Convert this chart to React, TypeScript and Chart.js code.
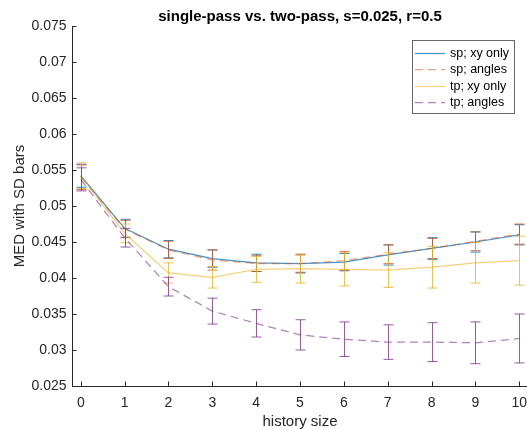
import { useEffect, useRef } from 'react';
import { Chart, registerables } from 'chart.js';

Chart.register(...registerables);

// ---- data ----
const historySizes = [0, 1, 2, 3, 4, 5, 6, 7, 8, 9, 10];

const spXyMean = [0.0542, 0.0469, 0.044, 0.0427, 0.0421, 0.042, 0.0422, 0.0432, 0.0441, 0.045, 0.046];
const spXySd = [0.0016, 0.00125, 0.0012, 0.0012, 0.0012, 0.0013, 0.0012, 0.0014, 0.0015, 0.0014, 0.0014];

const spAnglesMean = [0.054, 0.0468, 0.0439, 0.0425, 0.042, 0.042, 0.0424, 0.0433, 0.0441, 0.0451, 0.0461];
const spAnglesSd = [0.0017, 0.0012, 0.0012, 0.0014, 0.0011, 0.0012, 0.0013, 0.0013, 0.0014, 0.0013, 0.0014];

const tpXyMean = [0.0542, 0.0462, 0.0407, 0.0401, 0.0412, 0.0413, 0.0412, 0.0411, 0.0415, 0.0421, 0.0424];
const tpXySd = [0.0018, 0.0013, 0.0014, 0.0015, 0.0018, 0.002, 0.0023, 0.0024, 0.0029, 0.0028, 0.0034];

const tpAnglesMean = [0.0537, 0.0456, 0.0388, 0.0354, 0.0337, 0.0321, 0.0315, 0.0311, 0.0311, 0.031, 0.0316];
const tpAnglesSd = [0.0016, 0.0013, 0.0013, 0.0018, 0.0019, 0.0021, 0.0024, 0.0024, 0.0027, 0.0029, 0.0034];

const seriesLabels = ['sp; xy only', 'sp; angles', 'tp; xy only', 'tp; angles'];

const xTickValues = [0, 1, 2, 3, 4, 5, 6, 7, 8, 9, 10];
const xTickLabels = ['0', '1', '2', '3', '4', '5', '6', '7', '8', '9', '10'];
const yTickValues = [0.025, 0.03, 0.035, 0.04, 0.045, 0.05, 0.055, 0.06, 0.065, 0.07, 0.075];
const yTickLabels = ['0.025', '0.03', '0.035', '0.04', '0.045', '0.05', '0.055', '0.06', '0.065', '0.07', '0.075'];

const chartTitle = 'single-pass vs. two-pass, s=0.025, r=0.5';
const xAxisTitle = 'history size';
const yAxisTitle = 'MED with SD bars';

// ---- styles ----
const FONT = '"Liberation Sans", Arial, Helvetica, sans-serif';
const AXIS = '#262626';

const seriesStyles = [
  { line: 'rgba(0,114,189,0.75)', bar: 'rgba(0,114,189,0.85)', dash: [] as number[] },
  { line: 'rgba(217,83,25,0.55)', bar: 'rgba(217,83,25,0.8)', dash: [8, 5] },
  { line: 'rgba(237,177,32,0.6)', bar: 'rgba(237,177,32,0.8)', dash: [] as number[] },
  { line: 'rgba(126,47,142,0.6)', bar: 'rgba(126,47,142,0.8)', dash: [8, 5] },
];

const seriesMeans = [spXyMean, spAnglesMean, tpXyMean, tpAnglesMean];
const seriesSds = [spXySd, spAnglesSd, tpXySd, tpAnglesSd];

const decorPlugin = {
  id: 'matlabDecor',
  beforeDatasetsDraw(chart: any) {
    const { ctx, chartArea } = chart;
    const xs = chart.scales.x;
    const ys = chart.scales.y;
    ctx.save();
    ctx.strokeStyle = AXIS;
    ctx.lineWidth = 1;
    ctx.beginPath();
    xTickValues.forEach((v) => {
      const px = Math.round(xs.getPixelForValue(v)) + 0.5;
      ctx.moveTo(px, chartArea.bottom);
      ctx.lineTo(px, chartArea.bottom - 4.5);
    });
    yTickValues.forEach((v) => {
      const py = Math.round(ys.getPixelForValue(v)) + 0.5;
      ctx.moveTo(chartArea.left, py);
      ctx.lineTo(chartArea.left + 4.5, py);
    });
    ctx.stroke();
    ctx.restore();
  },
  afterDatasetDraw(chart: any, args: any) {
    const ds: any = chart.data.datasets[args.index];
    if (!ds.sdValues) return;
    const xs = chart.scales.x;
    const ys = chart.scales.y;
    const ctx = chart.ctx;
    ctx.save();
    ctx.strokeStyle = ds.barColor;
    ctx.lineWidth = 1;
    ctx.setLineDash([]);
    ctx.beginPath();
    ds.data.forEach((p: any, i: number) => {
      const px = Math.round(xs.getPixelForValue(p.x)) + 0.5;
      const top = ys.getPixelForValue(p.y + ds.sdValues[i]);
      const bot = ys.getPixelForValue(p.y - ds.sdValues[i]);
      ctx.moveTo(px, top);
      ctx.lineTo(px, bot);
      ctx.moveTo(px - 5, top);
      ctx.lineTo(px + 5, top);
      ctx.moveTo(px - 5, bot);
      ctx.lineTo(px + 5, bot);
    });
    ctx.stroke();
    ctx.restore();
  },
  afterDraw(chart: any) {
    const { ctx, chartArea } = chart;
    ctx.save();
    // title
    ctx.fillStyle = '#000';
    ctx.font = `bold 15px ${FONT}`;
    ctx.textAlign = 'center';
    ctx.textBaseline = 'alphabetic';
    ctx.fillText(chartTitle, (chartArea.left + 527) / 2 + 0.5, 21);

    // legend
    const w = 102;
    const h = 73;
    const left = 412;
    const top = chartArea.top + 14;
    ctx.fillStyle = '#fff';
    ctx.fillRect(left, top, w, h);
    ctx.strokeStyle = '#666';
    ctx.lineWidth = 1;
    ctx.setLineDash([]);
    ctx.strokeRect(left + 0.5, top + 0.5, w, h);
    ctx.font = `12.5px ${FONT}`;
    ctx.textAlign = 'left';
    ctx.textBaseline = 'middle';
    seriesLabels.forEach((lab, i) => {
      const y = top + 12.7 + i * 16.5;
      const st = seriesStyles[i];
      ctx.strokeStyle = st.line;
      ctx.lineWidth = 1.25;
      ctx.setLineDash(st.dash);
      ctx.beginPath();
      ctx.moveTo(left + 3, Math.round(y) + 0.5);
      ctx.lineTo(left + 33, Math.round(y) + 0.5);
      ctx.stroke();
      ctx.fillStyle = '#000';
      ctx.fillText(lab, left + 38, y + 0.5);
    });
    ctx.restore();
  },
};

export default function App() {
  const canvasRef = useRef<HTMLCanvasElement | null>(null);

  useEffect(() => {
    if (!canvasRef.current) return;
    const datasets = seriesLabels.map((label, si) => ({
      label,
      data: historySizes.map((x, i) => ({ x, y: seriesMeans[si][i] })),
      sdValues: seriesSds[si],
      barColor: seriesStyles[si].bar,
      borderColor: seriesStyles[si].line,
      backgroundColor: seriesStyles[si].line,
      borderWidth: 1.25,
      borderDash: seriesStyles[si].dash,
      pointRadius: 0,
      pointHoverRadius: 0,
      fill: false,
      tension: 0,
      order: 3 - si,
      clip: false as any,
    }));

    const chart = new Chart(canvasRef.current, {
      type: 'line',
      data: { datasets: datasets as any },
      plugins: [decorPlugin as any],
      options: {
        animation: false,
        responsive: false,
        devicePixelRatio: 1,
        layout: { padding: { left: 0, right: 12, top: 26, bottom: 0 } },
        plugins: {
          legend: { display: false },
          title: { display: false },
          tooltip: { enabled: false },
        },
        scales: {
          x: {
            type: 'linear',
            min: -0.2,
            max: 10.2,
            afterBuildTicks: (scale: any) => {
              scale.ticks = xTickValues.map((v) => ({ value: v }));
            },
            afterFit: (scale: any) => {
              scale.height = 44;
            },
            grid: { display: false, drawTicks: false },
            border: { display: true, color: AXIS, width: 1 },
            ticks: {
              color: AXIS,
              padding: 9,
              maxRotation: 0,
              autoSkip: false,
              font: { family: FONT, size: 14, lineHeight: 1.2 },
              callback: (_v: any, i: number) => xTickLabels[i],
            },
            title: {
              display: true,
              text: xAxisTitle,
              color: AXIS,
              font: { family: FONT, size: 15, lineHeight: 1 },
              padding: { top: 0, bottom: 1 },
            },
          },
          y: {
            type: 'linear',
            min: 0.025,
            max: 0.075,
            afterBuildTicks: (scale: any) => {
              scale.ticks = yTickValues.map((v) => ({ value: v }));
            },
            afterFit: (scale: any) => {
              scale.width = 72;
            },
            grid: { display: false, drawTicks: false },
            border: { display: true, color: AXIS, width: 1 },
            ticks: {
              color: AXIS,
              padding: 5.5,
              autoSkip: false,
              font: { family: FONT, size: 14, lineHeight: 1.2 },
              callback: (_v: any, i: number) => yTickLabels[i],
            },
            title: {
              display: true,
              text: yAxisTitle,
              color: AXIS,
              font: { family: FONT, size: 15, lineHeight: 1 },
              padding: { top: 12, bottom: 0 },
            },
          },
        },
      },
    });
    return () => chart.destroy();
  }, []);

  return (
    <div
      style={{
        position: 'absolute',
        left: 0,
        top: 0,
        width: 527,
        height: 430,
        overflow: 'hidden',
        background: '#fff',
      }}
    >
      <canvas ref={canvasRef} width={540} height={430} style={{ display: 'block', width: 540, height: 430 }} />
    </div>
  );
}
